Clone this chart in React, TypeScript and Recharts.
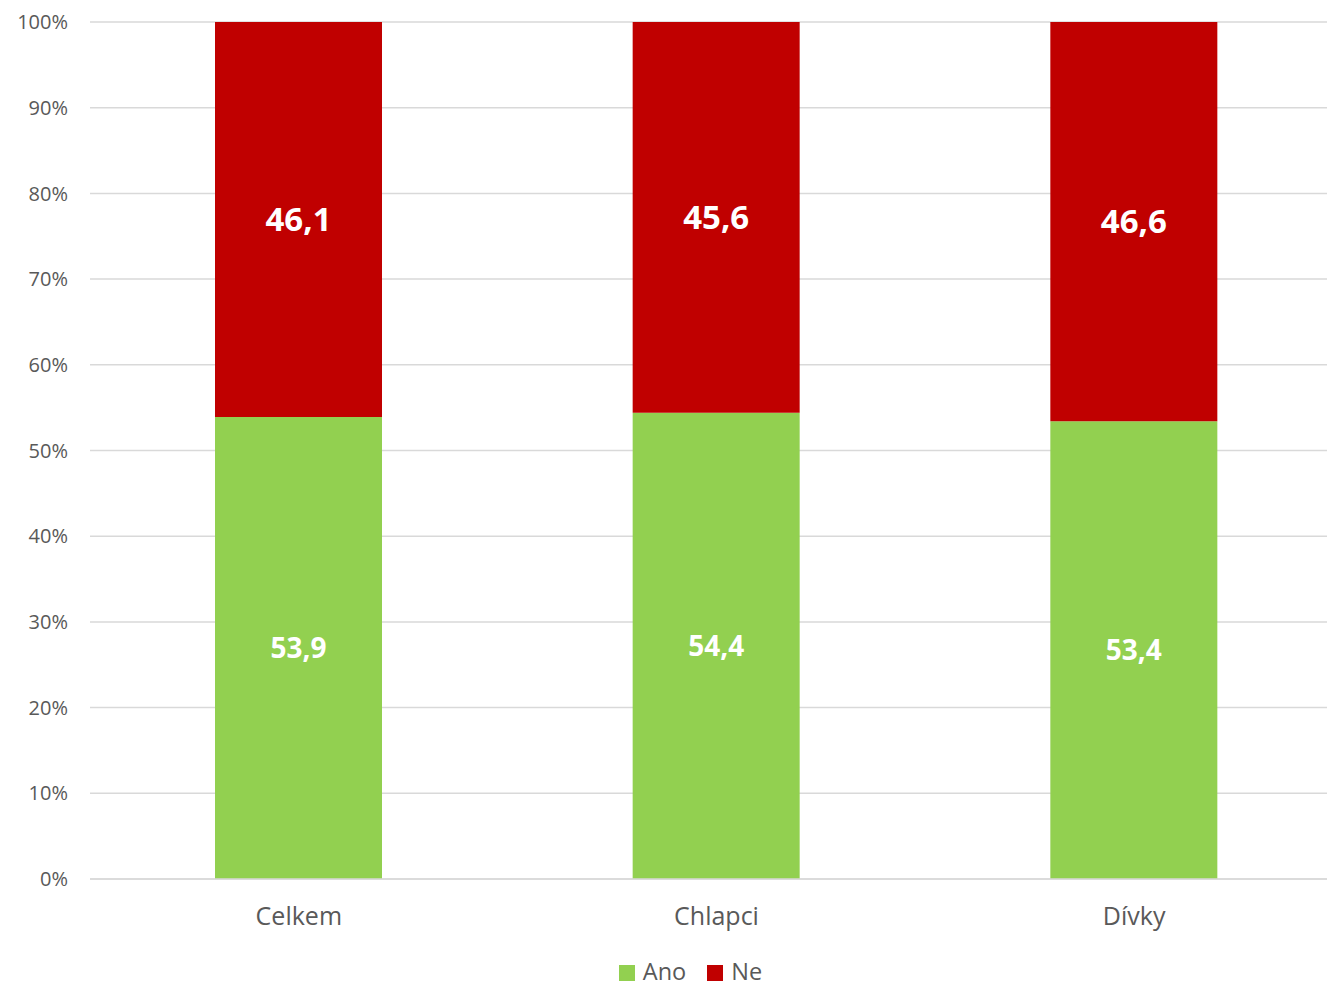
import React from "react";
import { BarChart, Bar, XAxis, YAxis, CartesianGrid, Legend, LabelList } from "recharts";

const categories = ["Celkem", "Chlapci", "Dívky"];
const anoValues = [53.9, 54.4, 53.4];
const neValues = [46.1, 45.6, 46.6];
const yTicks = [0, 10, 20, 30, 40, 50, 60, 70, 80, 90, 100];
const seriesNames = ["Ano", "Ne"];
const seriesColors = ["#92d050", "#c00000"];

const data = categories.map((c, i) => ({ name: c, Ano: anoValues[i], Ne: neValues[i] }));

const FONT = "'Open Sans', 'Noto Sans', sans-serif";
const fmt = (v: number) => String(v).replace(".", ",");

const LegendContent = () => (
  <div style={{ width: 1327, height: 39, display: "flex", justifyContent: "center", alignItems: "center", paddingLeft: 54, paddingTop: 5, boxSizing: "border-box", fontFamily: FONT }}>
    {seriesNames.map((n, i) => (
      <div key={n} style={{ display: "flex", alignItems: "center", height: 26, marginRight: i === 0 ? 21 : 0 }}>
        <span style={{ width: 16, height: 16, background: seriesColors[i], display: "inline-block", marginRight: 8, marginTop: 4 }} />
        <span style={{ fontSize: 23.5, color: "#595959", lineHeight: "26px" }}>{n}</span>
      </div>
    ))}
  </div>
);

export default function App() {
  return (
    <div style={{ position: "absolute", left: 0, top: 0, width: 1327, height: 988, overflow: "hidden", background: "#fff", fontFamily: FONT }}>
      <BarChart width={1343} height={988} data={data} margin={{ top: 22, right: 0, bottom: 0, left: 1 }}>
        <CartesianGrid vertical={false} stroke="#d9d9d9" strokeWidth={1.5} />
        <XAxis
          dataKey="name"
          axisLine={{ stroke: "#d9d9d9", strokeWidth: 1.5 }}
          tickLine={false}
          tick={{ fill: "#595959", fontSize: 25, fontFamily: FONT }}
          tickMargin={22}
          height={70}
        />
        <YAxis
          domain={[0, 100]}
          ticks={yTicks}
          tickFormatter={(v: number) => `${v}%`}
          axisLine={false}
          tickLine={false}
          tickSize={0}
          tickMargin={22}
          width={89}
          tick={{ fill: "#595959", fontSize: 20, fontFamily: FONT }}
          interval={0}
        />
        <Legend
          verticalAlign="bottom"
          height={39}
          content={<LegendContent />}
          wrapperStyle={{ left: 0, width: 1327, bottom: 0 }}
        />
        <Bar dataKey="Ano" stackId="a" fill={seriesColors[0]} barSize={167} isAnimationActive={false}>
          <LabelList dataKey="Ano" position="center" formatter={fmt} fill="#ffffff" fontSize={28} fontWeight="bold" fontFamily={FONT} />
        </Bar>
        <Bar dataKey="Ne" stackId="a" fill={seriesColors[1]} barSize={167} isAnimationActive={false}>
          <LabelList dataKey="Ne" position="center" formatter={fmt} fill="#ffffff" fontSize={33} fontWeight="bold" fontFamily={FONT} />
        </Bar>
      </BarChart>
    </div>
  );
}
